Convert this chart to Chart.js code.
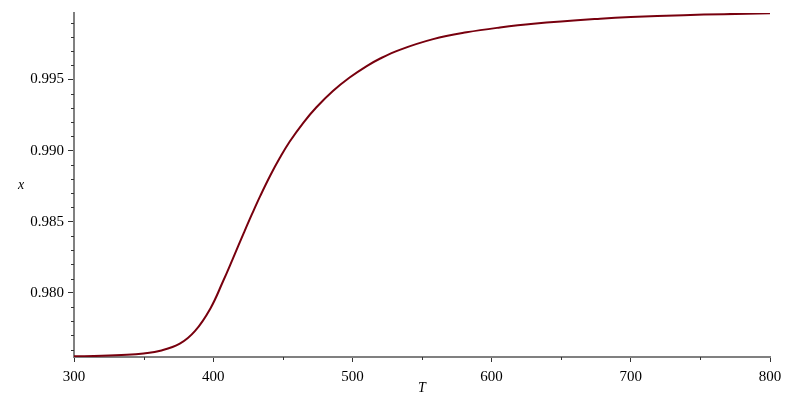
<!DOCTYPE html>
<html>
<head>
<meta charset="utf-8">
<script src="https://cdn.jsdelivr.net/npm/chart.js@4"></script>
<style>
  html, body { margin: 0; padding: 0; background: #fff; }
  #wrap { width: 797px; height: 402px; }
</style>
</head>
<body>
<div id="wrap"><canvas id="plot" width="797" height="402"></canvas></div>
<script>
const temps = [300, 320, 338, 350, 362, 376, 387, 398, 407, 414, 422, 428, 434, 441, 448, 455,
  465, 474, 486, 498, 510, 520, 534, 558, 582, 606, 630, 678, 700, 738, 767, 800];
const xValues = [0.97553, 0.97556, 0.97563, 0.97573, 0.97592, 0.97642, 0.97732, 0.97890,
  0.98079, 0.98237, 0.98421, 0.98556, 0.98685, 0.98825, 0.98951, 0.99064, 0.99199, 0.99303,
  0.99419, 0.99514, 0.99593, 0.99648, 0.99709, 0.99784, 0.99832, 0.99866, 0.99892, 0.99928,
  0.99940, 0.99953, 0.99960, 0.99967];

const xTicks = [300, 400, 500, 600, 700, 800];
const xMinorTicks = [350, 450, 550, 650, 750];
const yTicks = [0.980, 0.985, 0.990, 0.995];
const yMinorTicks = [0.976, 0.977, 0.978, 0.979, 0.981, 0.982, 0.983, 0.984, 0.986, 0.987, 0.988,
  0.989, 0.991, 0.992, 0.993, 0.994, 0.996, 0.997, 0.998, 0.999];

const AXIS_GREY = "#808080";
const tickFont = { family: "'Liberation Serif', 'Times New Roman', serif", size: 15 };

// petites graduations + titres des axes
const extras = {
  id: "extras",
  afterDraw(chart) {
    const { ctx, chartArea, scales } = chart;
    ctx.save();
    ctx.strokeStyle = "#333";
    ctx.lineWidth = 1;
    xMinorTicks.forEach((v) => {
      const px = Math.round(scales.x.getPixelForValue(v)) + 0.5;
      ctx.beginPath();
      ctx.moveTo(px, chartArea.bottom);
      ctx.lineTo(px, chartArea.bottom + 3);
      ctx.stroke();
    });
    yMinorTicks.forEach((v) => {
      const py = Math.round(scales.y.getPixelForValue(v)) + 0.5;
      ctx.beginPath();
      ctx.moveTo(chartArea.left - 3, py);
      ctx.lineTo(chartArea.left, py);
      ctx.stroke();
    });
    ctx.fillStyle = "#000";
    ctx.font = "italic 14px 'Liberation Serif', 'Times New Roman', serif";
    ctx.textAlign = "center";
    ctx.textBaseline = "middle";
    ctx.fillText("T", (chartArea.left + chartArea.right) / 2, 388);
    ctx.fillText("x", 21, (chartArea.top + chartArea.bottom) / 2);
    ctx.restore();
  },
};

new Chart(document.getElementById("plot"), {
  type: "line",
  data: {
    datasets: [
      {
        data: temps.map((t, i) => ({ x: t, y: xValues[i] })),
        borderColor: "#78000E",
        borderWidth: 2,
        pointRadius: 0,
        tension: 0.4,
        fill: false,
      },
    ],
  },
  options: {
    responsive: false,
    animation: false,
    layout: { padding: { top: 9, right: 27, left: 0, bottom: 0 } },
    plugins: { legend: { display: false }, tooltip: { enabled: false } },
    scales: {
      x: {
        type: "linear",
        min: 300,
        max: 800,
        afterBuildTicks: (scale) => {
          scale.ticks = xTicks.map((v) => ({ value: v }));
        },
        afterFit: (scale) => {
          scale.height = 45;
        },
        grid: { drawOnChartArea: false, tickLength: 5, tickColor: "#333" },
        border: { color: AXIS_GREY, width: 2 },
        ticks: { color: "#000", font: tickFont, padding: 6, maxRotation: 0 },
      },
      y: {
        type: "linear",
        min: 0.97548,
        max: 0.99968,
        afterBuildTicks: (scale) => {
          scale.ticks = yTicks.map((v) => ({ value: v }));
        },
        afterFit: (scale) => {
          scale.width = 74;
        },
        grid: { drawOnChartArea: false, tickLength: 6, tickColor: "#333" },
        border: { color: AXIS_GREY, width: 2 },
        ticks: {
          color: "#000",
          font: tickFont,
          padding: 4,
          callback: (v) => v.toFixed(3),
        },
      },
    },
  },
  plugins: [extras],
});
</script>
</body>
</html>
